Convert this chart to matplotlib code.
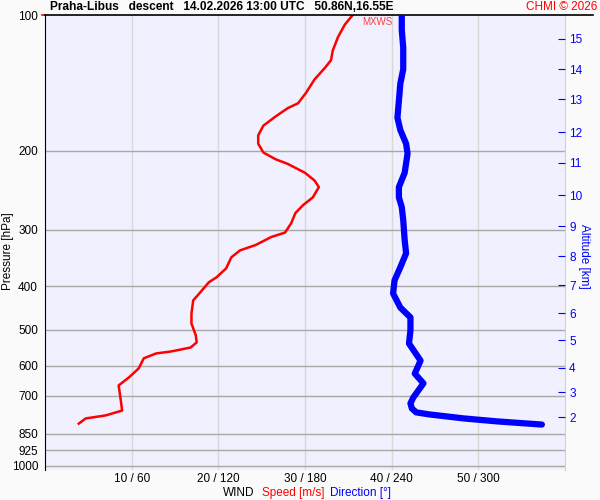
import matplotlib
matplotlib.use('Agg')
import matplotlib.pyplot as plt
from matplotlib.ticker import FixedLocator, NullLocator, NullFormatter, FixedFormatter

plt.rcParams['font.family'] = ['Liberation Sans', 'DejaVu Sans']

# wind speed profile (pressure hPa, speed m/s)
speed_hpa = [100, 105, 112, 120, 126, 131, 139, 149, 157, 161, 168, 176, 185, 193,
             202, 209, 214, 224, 233, 241, 254, 264, 275, 290, 304, 311, 324, 333,
             345, 365, 382, 392, 413, 430, 460, 484, 514, 533, 547, 558, 564, 578,
             609, 637, 664, 706, 755, 774, 786, 807]
speed_ms = [35.5, 34.6, 33.8, 33.2, 33.0, 32.3, 31.1, 30.1, 29.2, 28.0, 26.6, 25.2, 24.6, 24.6,
            25.2, 26.6, 28.0, 30.0, 31.1, 31.6, 30.9, 29.8, 28.9, 28.4, 27.7, 26.1, 24.3, 22.5,
            21.5, 20.9, 19.8, 18.9, 17.9, 17.1, 16.9, 16.9, 17.4, 17.5, 16.8, 14.6, 12.8, 11.4,
            10.8, 9.7, 8.5, 8.7, 8.9, 7.0, 4.7, 3.9]

# wind direction profile (pressure hPa, direction deg)
dir_hpa = [100, 108, 118, 132, 142, 155, 169, 180, 193, 203, 224, 241, 254, 267, 285,
           316, 338, 363, 388, 415, 446, 469, 501, 536, 585, 625, 657, 706, 728, 747,
           762, 770, 786, 798, 811]
dir_deg = [247, 247, 248, 248, 246, 245, 244, 246, 250, 251, 249, 245, 245, 247, 248,
           249, 250, 246, 242, 241, 246, 253, 253, 252, 260, 256, 262, 255, 253, 254,
           257, 266, 290, 313, 344]

# altitude axis
altitude_km = [2, 3, 4, 5, 6, 7, 8, 9, 10, 11, 12, 13, 14, 15]
altitude_hpa = [782, 688, 606, 527, 459, 398, 343, 294, 251, 213, 182, 154, 132, 113]

p_levels = [100, 200, 300, 400, 500, 600, 700, 850, 925, 1000]
speed_ticks = [10, 20, 30, 40, 50]
tick_labels = ['10 / 60', '20 / 120', '30 / 180', '40 / 240', '50 / 300']

fig = plt.figure(figsize=(6, 5), dpi=100, facecolor='#fafafa')
ax = fig.add_axes([45 / 600, 30 / 500, 520 / 600, 455 / 500])
ax.set_facecolor('#f0f0ff')
ax.set_yscale('log')
ax.set_xlim(0, 60)

# direction on its own x scale, altitude on its own y ticks
ax_dir = ax.twiny()
ax_alt = ax.twinx()
ax_alt.set_yscale('log')
ax.set_ylim(1023, 100)
ax_alt.set_ylim(1023, 100)
ax_dir.set_xlim(0, 360)

ax.yaxis.set_major_locator(FixedLocator(p_levels))
ax.yaxis.set_major_formatter(FixedFormatter([str(p) for p in p_levels]))
ax.yaxis.set_minor_locator(NullLocator())
ax.yaxis.set_minor_formatter(NullFormatter())
ax.tick_params(axis='y', length=0, pad=5, labelsize=8.5)
ax.set_xticks(speed_ticks)
ax.set_xticklabels(tick_labels)
ax.tick_params(axis='x', length=0, pad=2, labelsize=8.5)

for p in p_levels[1:]:
    ax.axhline(p, color='#a8a8a8', lw=1, zorder=1)
for s in speed_ticks:
    ax.axvline(s, color='#d8d8d8', lw=1, zorder=0.5)
ax.axhline(100, xmin=0, xmax=(593 - 45) / 520, color='black', lw=1.2, clip_on=False, zorder=5)
ax.plot([-0.35, 0], [100, 100], color='red', lw=1.2, clip_on=False)

for side in ['top', 'bottom']:
    ax.spines[side].set_visible(False)
ax.spines['left'].set_color('black')
ax.spines['right'].set_color('#d0d0d0')

ax.plot(speed_ms, speed_hpa, color='red', lw=1.8, zorder=3)
ax.text(36.6, 101, 'MXWS', color='#ff4040', fontsize=7, va='top', ha='left')

ax.set_ylabel('Pressure [hPa]', fontsize=8.5)
ax.yaxis.set_label_coords(-0.06, 0.48)

ax_dir.axis('off')
ax_dir.plot(dir_deg, dir_hpa, color='#0000ff', lw=4.5, solid_capstyle='round', zorder=4)

ax_alt.yaxis.set_major_locator(FixedLocator(altitude_hpa))
ax_alt.yaxis.set_major_formatter(FixedFormatter([str(a) for a in altitude_km]))
ax_alt.yaxis.set_minor_locator(NullLocator())
ax_alt.yaxis.set_minor_formatter(NullFormatter())
ax_alt.tick_params(axis='y', direction='in', length=5, pad=3, colors='#0000ff', labelsize=8.5)
for side in ['top', 'bottom', 'left', 'right']:
    ax_alt.spines[side].set_visible(False)
ax_alt.set_ylabel('Altitude [km]', color='#0000ff', rotation=270, fontsize=8.5)
ax_alt.yaxis.set_label_coords(1.048, 0.47)

fig.text(50 / 600, 1 - 7 / 500,
         'Praha-Libus   descent   14.02.2026 13:00 UTC   50.86N,16.55E',
         fontsize=8.6, fontweight='bold', va='center', ha='left')
fig.text(597 / 600, 1 - 7 / 500, 'CHMI © 2026', color='red', fontsize=8.5, va='center', ha='right')

fig.text(239 / 600, 1 - 493 / 500, 'WIND', fontsize=8.5, va='center', ha='center')
fig.text(293 / 600, 1 - 493 / 500, 'Speed [m/s]', color='red', fontsize=8.5, va='center', ha='center')
fig.text(361 / 600, 1 - 493 / 500, 'Direction [°]', color='#0000ff', fontsize=8.5, va='center', ha='center')

fig.savefig('out.png', dpi=100, facecolor=fig.get_facecolor())
